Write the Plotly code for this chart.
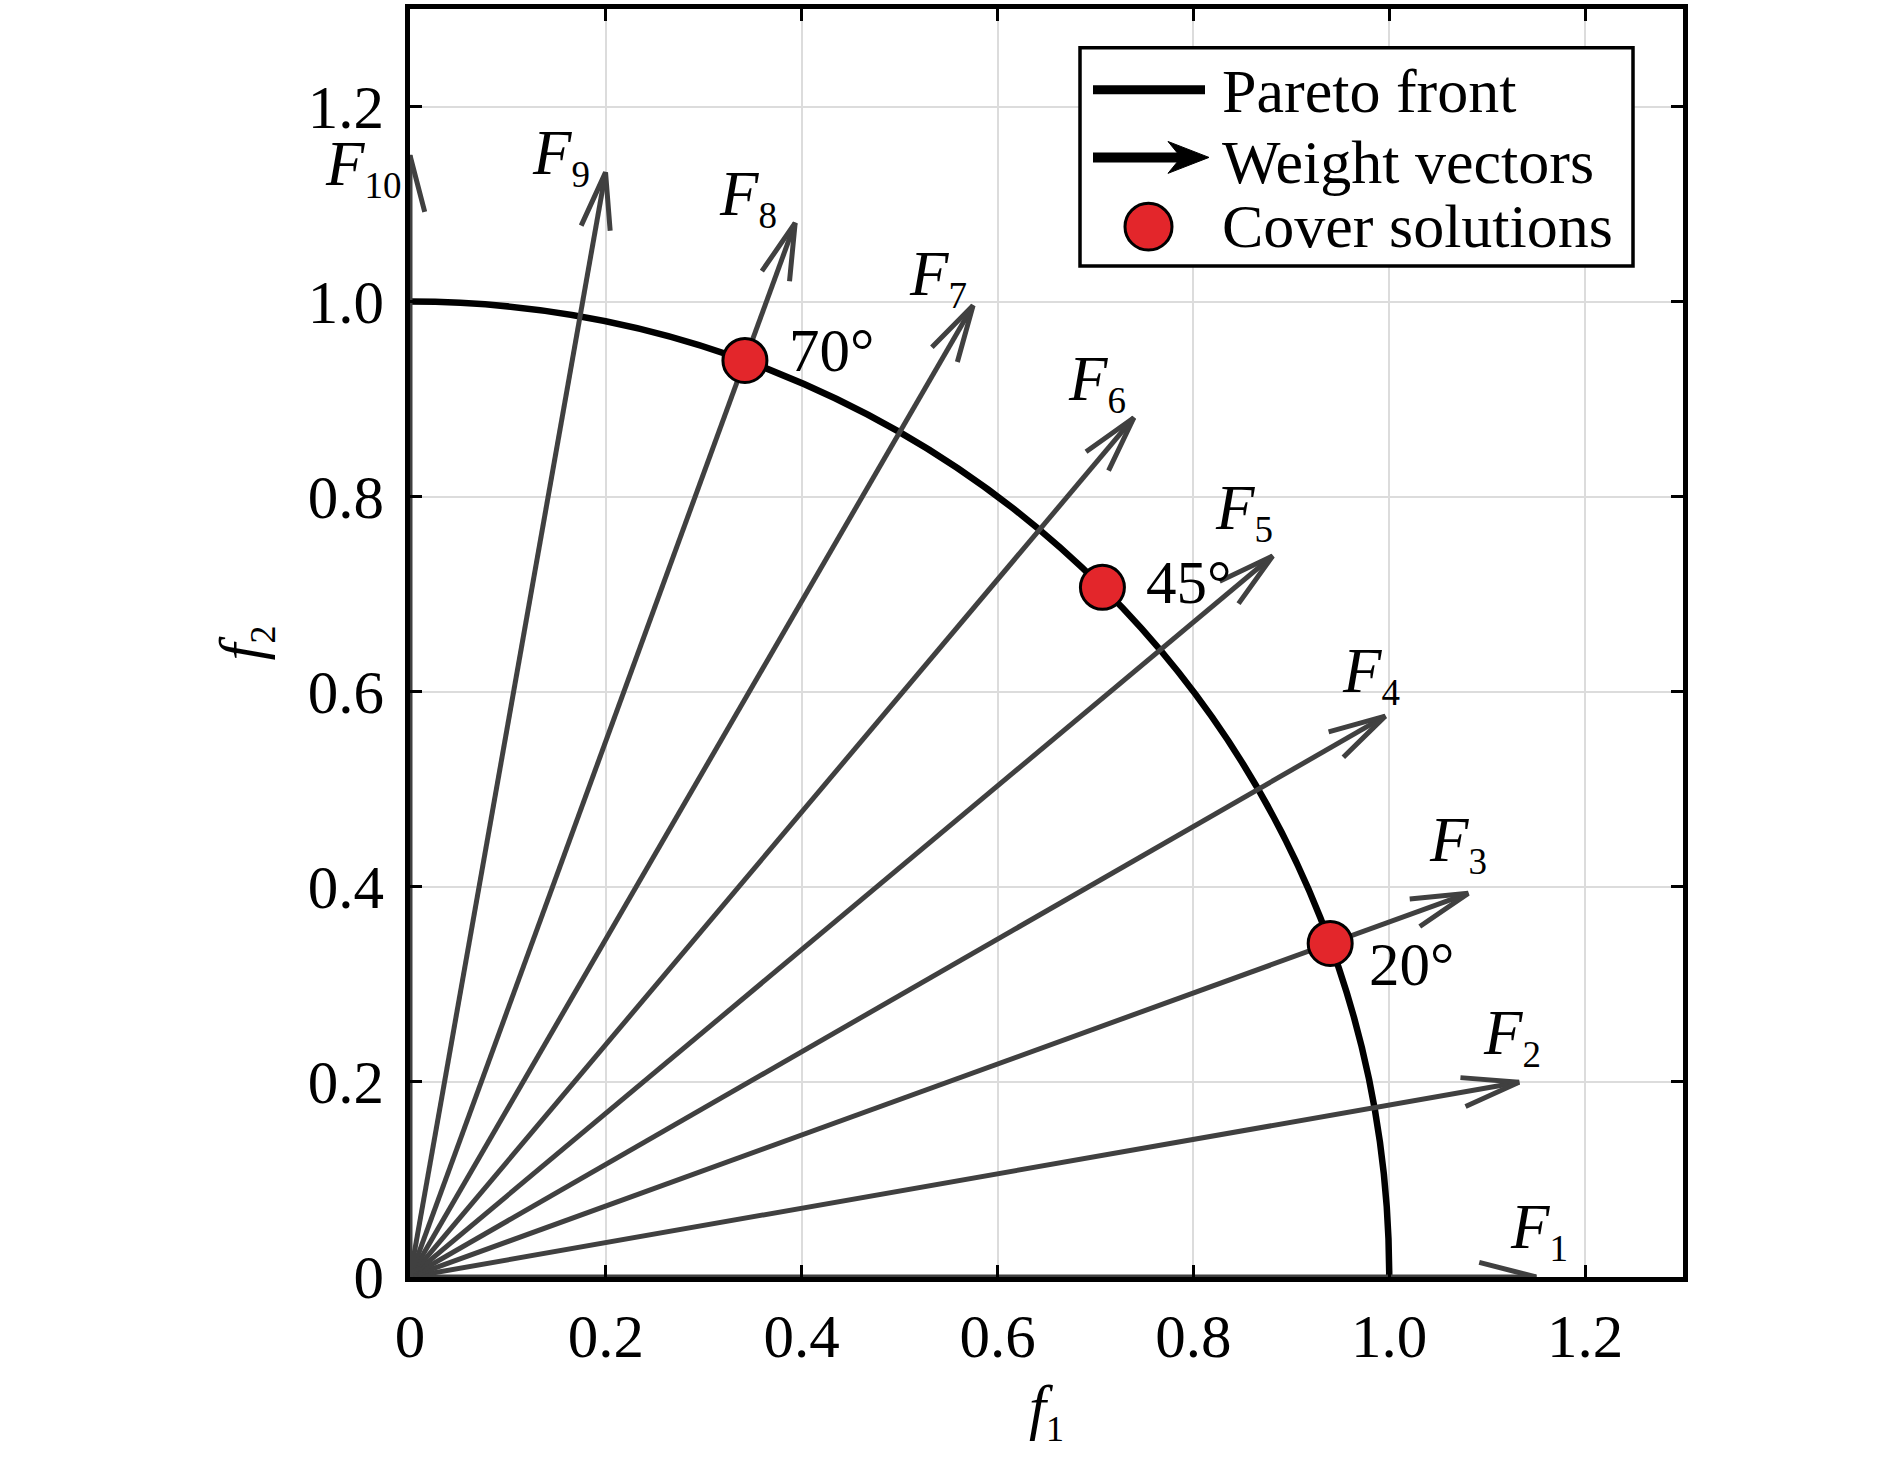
import numpy as np
import plotly.graph_objects as go

# ------------------------------------------------------ #
#       data                          #
# ------------------------------------------------------ #
vector_ids = [1, 2, 3, 4, 5, 6, 7, 8, 9, 10]
vector_angles = [0, 10, 20, 30, 40, 50, 60, 70, 80, 90]   # degrees
vector_length = 1.15
front_radius = 1.0
cover_angles = [20, 45, 70]
cover_labels = ["20°", "45°", "70°"]
tick_vals = [0, 0.2, 0.4, 0.6, 0.8, 1.0, 1.2]
tick_text = ["0", "0.2", "0.4", "0.6", "0.8", "1.0", "1.2"]
legend_labels = ["Pareto front", "Weight vectors", "Cover solutions"]

# ------------------------------------------------------ #
#       style / layout                                    #
# ------------------------------------------------------ #
W, H = 1890, 1457
ML, MR, MT, MB = 410, 207, 4, 180
AX_MAX = 1.3
PW, PH = W - ML - MR, H - MT - MB
FONT = "Liberation Serif, Times New Roman, serif"
VEC_COLOR = "#404040"
RED = "#e3262b"

barb_len = 0.06
barb_half = np.radians(14.5)

# pixel shifts of the F_k labels from the arrow tips
label_dx = [-28, -38, -41, -45, -60, -68, -66, -78, -76, -87]
label_dy = [47, 46, 50, 42, 44, 35, 28, 25, 16, -12]
# pixel shifts of the angle labels from the cover points
angle_dx = [37, 42, 42]
angle_dy = [-21, 5, 10]


def px2x(px):
    return (px - ML) / PW * AX_MAX


def py2y(py):
    return (H - MB - py) / PH * AX_MAX


fig = go.Figure()

# weight vectors
for k, a in zip(vector_ids, vector_angles):
    t = np.radians(a)
    tx, ty = vector_length * np.cos(t), vector_length * np.sin(t)
    back = t + np.pi
    xs = [0, tx, None,
          tx + barb_len * np.cos(back + barb_half), tx, tx + barb_len * np.cos(back - barb_half)]
    ys = [0, ty, None,
          ty + barb_len * np.sin(back + barb_half), ty, ty + barb_len * np.sin(back - barb_half)]
    fig.add_trace(go.Scatter(x=xs, y=ys, mode="lines",
                             line=dict(color=VEC_COLOR, width=5),
                             showlegend=False, hoverinfo="skip"))
    fig.add_annotation(x=tx, y=ty, xref="x", yref="y", showarrow=False,
                       text=f"<i>F</i><sub><span style='font-size:37px'>{k}</span></sub>",
                       xanchor="left", yanchor="middle",
                       xshift=label_dx[k - 1], yshift=label_dy[k - 1],
                       font=dict(family=FONT, size=63, color="black"))

# Pareto front (quarter of the unit circle)
fig.add_shape(type="circle", xref="x", yref="y",
              x0=-front_radius, y0=-front_radius, x1=front_radius, y1=front_radius,
              line=dict(color="black", width=6.5), layer="between")

# cover solutions
cx = [front_radius * np.cos(np.radians(a)) for a in cover_angles]
cy = [front_radius * np.sin(np.radians(a)) for a in cover_angles]
fig.add_trace(go.Scatter(x=cx, y=cy, mode="markers",
                         marker=dict(size=44, color=RED, line=dict(color="black", width=3)),
                         showlegend=False, hoverinfo="skip", cliponaxis=False))
for i, lab in enumerate(cover_labels):
    fig.add_annotation(x=cx[i], y=cy[i], xref="x", yref="y", showarrow=False, text=lab,
                       xanchor="left", yanchor="middle",
                       xshift=angle_dx[i], yshift=angle_dy[i],
                       font=dict(family=FONT, size=61, color="black"))

# ------------------------------------------------------ #
#       hand-made legend box                              #
# ------------------------------------------------------ #
fig.add_shape(type="rect", xref="x", yref="y",
              x0=px2x(1080), x1=px2x(1633), y0=py2y(262), y1=py2y(43),
              fillcolor="white", line=dict(color="black", width=3.5), layer="above")
fig.add_shape(type="line", xref="x", yref="y",
              x0=px2x(1093), x1=px2x(1205), y0=py2y(85), y1=py2y(85),
              line=dict(color="black", width=9), layer="above")
fig.add_shape(type="line", xref="x", yref="y",
              x0=px2x(1093), x1=px2x(1182), y0=py2y(153), y1=py2y(153),
              line=dict(color="black", width=10), layer="above")
head = [(1209, 153), (1168, 137), (1181, 153), (1168, 169)]
path = "M " + " L ".join(f"{px2x(a)},{py2y(b)}" for a, b in head) + " Z"
fig.add_shape(type="path", xref="x", yref="y", path=path,
              fillcolor="black", line=dict(color="black", width=1), layer="above")
fig.add_shape(type="circle", xref="x", yref="y",
              x0=px2x(1125), x1=px2x(1172), y0=py2y(246), y1=py2y(199),
              fillcolor=RED, line=dict(color="black", width=3), layer="above")
for lab, yc in zip(legend_labels, [86, 158, 222]):
    fig.add_annotation(x=px2x(1220), y=py2y(yc), xref="x", yref="y", showarrow=False,
                       text=lab, xanchor="left", yanchor="middle",
                       font=dict(family=FONT, size=62, color="black"))

axis_common = dict(range=[0, AX_MAX], tickvals=tick_vals, ticktext=tick_text,
                   ticks="inside", ticklen=12, tickwidth=3, tickcolor="black",
                   showline=True, linewidth=4.5, linecolor="black", mirror="ticks",
                   showgrid=True, gridcolor="#dcdcdc", gridwidth=1.7, zeroline=False,
                   tickfont=dict(family=FONT, size=61, color="black"),
                   fixedrange=True)

fig.update_xaxes(**axis_common, ticklabelstandoff=2,
                 title=dict(text="<i>f</i><sub><span style='font-size:36px'>1</span></sub>",
                            font=dict(family=FONT, size=61, color="black"), standoff=18))
fig.update_yaxes(**axis_common, ticklabelstandoff=9,
                 title=dict(text="<i>f</i><sub><span style='font-size:36px'>2</span></sub>",
                            font=dict(family=FONT, size=61, color="black"), standoff=27))

fig.update_layout(width=W, height=H,
                  margin=dict(l=ML, r=MR, t=MT, b=MB, pad=0),
                  plot_bgcolor="white", paper_bgcolor="white",
                  showlegend=False)

fig.write_html("out.html", config={"displayModeBar": False},
               post_script="document.body.style.margin='0px';")
